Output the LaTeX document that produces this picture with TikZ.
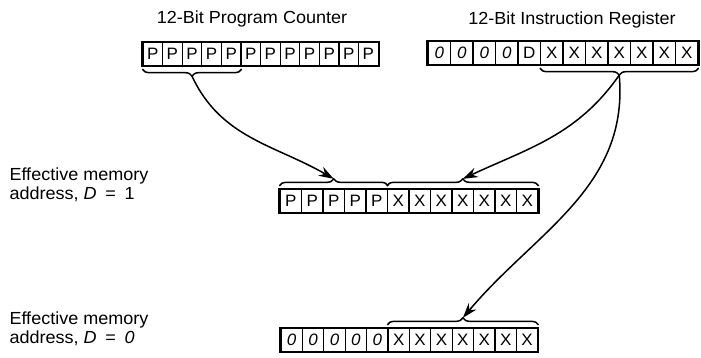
\documentclass[tikz,border=0pt]{standalone}
\usepackage{fontspec}
\setmainfont{Liberation Sans}[FakeStretch=1.03]
\usetikzlibrary{arrows.meta}
\usetikzlibrary{decorations.pathreplacing}
\newcommand{\zerobit}{\textit{0}}
\tikzset{
  bitcell/.style={draw, line width=1.3pt, minimum height=23pt, inner sep=0pt, font=\fontsize{16.5}{16.5}\selectfont},
  regframe/.style={draw, line width=2pt},
  bitbrace/.style={decorate, decoration={brace, amplitude=7pt, raise=3pt}, line width=1.5pt},
  flow/.style={-{Stealth[length=15pt,width=10pt]}, line width=1.5pt},
  caption/.style={font=\fontsize{17.5}{18.5}\selectfont, align=left},
}

\begin{document}
\begin{tikzpicture}[x=1pt,y=1pt]
  \useasboundingbox (0,0) rectangle (701,357);
  \def\pcw{19.6}
  \def\irw{22.5}
  \def\eaw{21.5}
  \def\ebw{21.4}
  % source registers
  \foreach \b [count=\i] in {P,P,P,P,P,P,P,P,P,P,P,P}
    \node[bitcell, minimum width=\pcw pt] (pc\i) at ({143+(\i-0.5)*\pcw},303) {\b};
  \foreach \b [count=\i] in {\zerobit,\zerobit,\zerobit,\zerobit,D,X,X,X,X,X,X,X}
    \node[bitcell, minimum width=\irw pt] (ir\i) at ({428+(\i-0.5)*\irw},304) {\b};
  \draw[regframe] (pc1.south west) rectangle (pc12.north east);
  \draw[regframe] (ir1.south west) rectangle (ir12.north east);
  \node[caption] (pctitle) at (252,338) {12-Bit Program Counter};
  \node[caption] (irtitle) at (572,337) {12-Bit Instruction Register};

  % effective addresses
  \foreach \b [count=\i] in {P,P,P,P,P,X,X,X,X,X,X,X}
    \node[bitcell, minimum width=\eaw pt] (ea\i) at ({280+(\i-0.5)*\eaw},156) {\b};
  \foreach \b [count=\i] in {\zerobit,\zerobit,\zerobit,\zerobit,\zerobit,X,X,X,X,X,X,X}
    \node[bitcell, minimum width=\ebw pt] (eb\i) at ({281+(\i-0.5)*\ebw},17) {\b};
  \draw[regframe] (ea1.south west) rectangle (ea12.north east);
  \draw[regframe] (eb1.south west) rectangle (eb12.north east);
  \node[caption, anchor=west] (eaonelbl) at (6,172) {Effective memory\\address, \textit{D}\enspace=\enspace1};
  \node[caption, anchor=west] (ezerolbl) at (6,28) {Effective memory\\address, \textit{D}\enspace=\enspace\zerobit};

  % braces
  \draw[bitbrace] (pc5.south east) -- (pc1.south west) coordinate[midway, yshift=-10pt] (pctip);
  \draw[bitbrace] (ir12.south east) -- (ir6.south west) coordinate[midway, yshift=-10pt] (irtip);
  \draw[bitbrace] (ea1.north west) -- (ea5.north east) coordinate[midway, yshift=10pt] (eptip);
  \draw[bitbrace] (ea6.north west) -- (ea12.north east) coordinate[midway, yshift=10pt] (extip);
  \draw[bitbrace] (eb6.north west) -- (eb12.north east) coordinate[midway, yshift=10pt] (ebtip);

  \draw[flow] (pctip) to[out=-65, in=150] (eptip);
  \draw[flow] (irtip) to[out=235, in=25] (extip);
  \draw[flow] (irtip) to[out=-85, in=50] (ebtip);
\end{tikzpicture}
\end{document}
